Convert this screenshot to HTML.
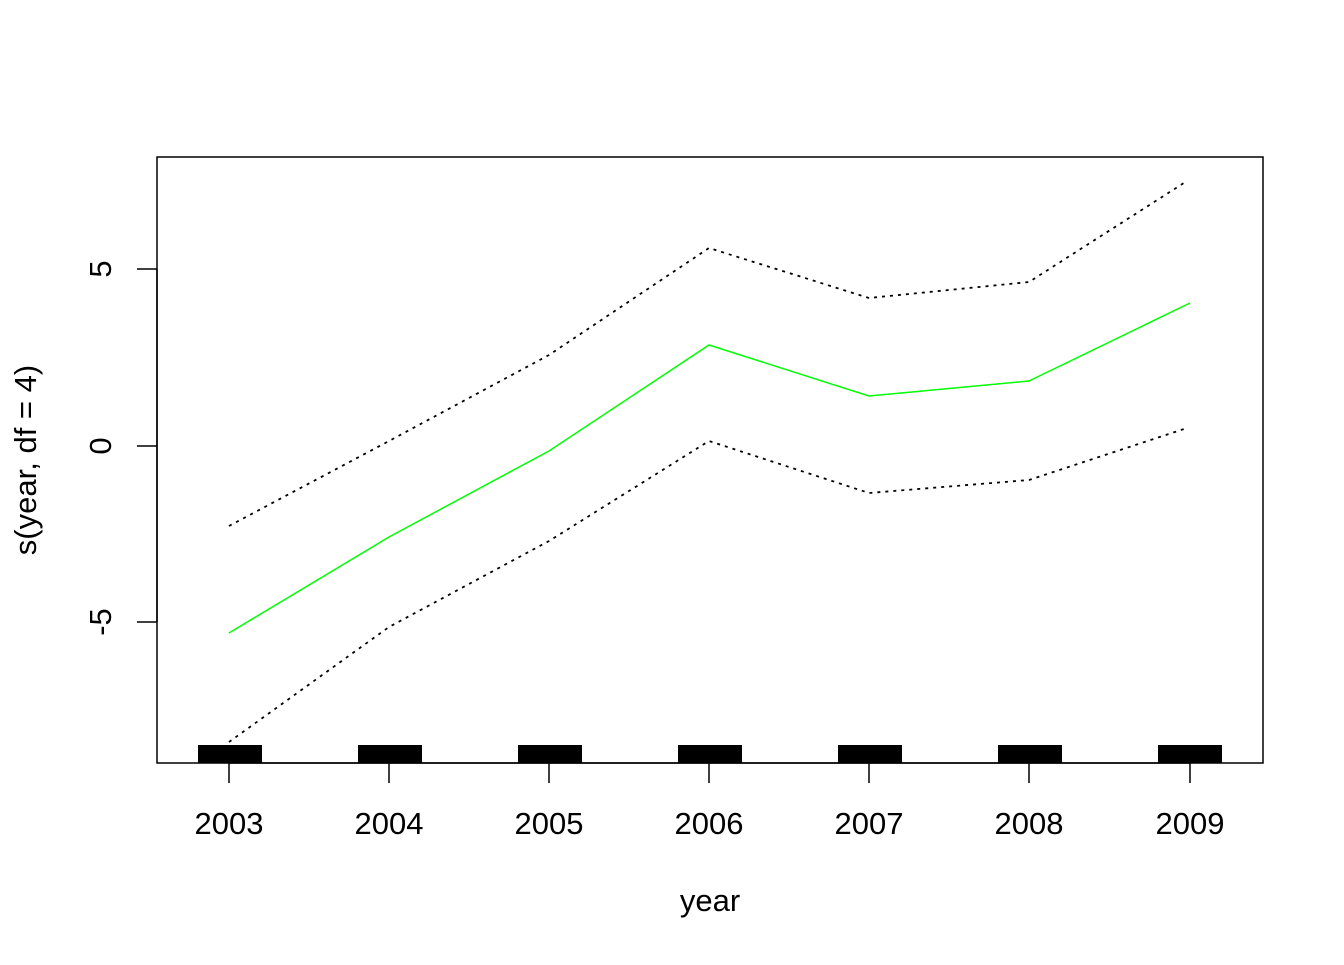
<!DOCTYPE html>
<html><head><style>body{margin:0;background:#fff}</style></head><body>
<svg width="1344" height="960" xmlns="http://www.w3.org/2000/svg" font-family="Liberation Sans, sans-serif">
<rect width="1344" height="960" fill="#fff"/>
<g fill="#000">
<rect x="198" y="745" width="64" height="18"/>
<rect x="358" y="745" width="64" height="18"/>
<rect x="518" y="745" width="64" height="18"/>
<rect x="678" y="745" width="64" height="18"/>
<rect x="838" y="745" width="64" height="18"/>
<rect x="998" y="745" width="64" height="18"/>
<rect x="1158" y="745" width="64" height="18"/>
</g>
<rect x="157" y="157" width="1106" height="606" fill="none" stroke="#000" stroke-width="1.5"/>
<polyline points="229,526 389,441 549,355 709,248 869,298 1029,282 1187,181" fill="none" stroke="#000" stroke-width="1.8" stroke-dasharray="3,5"/>
<polyline points="229,742 389,627 549,541 709,441 869,493 1029,480 1187,428" fill="none" stroke="#000" stroke-width="1.8" stroke-dasharray="3,5"/>
<polyline points="229,633 389,537 549,451 709,345 869,396 1029,381 1190,303" fill="none" stroke="#00ff00" stroke-width="1.5"/>
<g stroke="#000" stroke-width="1.5">
<line x1="229" y1="763" x2="1190" y2="763"/>
<line x1="229" y1="763" x2="229" y2="783"/><line x1="389" y1="763" x2="389" y2="783"/>
<line x1="549" y1="763" x2="549" y2="783"/><line x1="709" y1="763" x2="709" y2="783"/>
<line x1="869" y1="763" x2="869" y2="783"/><line x1="1029" y1="763" x2="1029" y2="783"/>
<line x1="1190" y1="763" x2="1190" y2="783"/>
<line x1="157" y1="269" x2="157" y2="622"/>
<line x1="137" y1="269" x2="157" y2="269"/><line x1="137" y1="446" x2="157" y2="446"/><line x1="137" y1="622" x2="157" y2="622"/>
</g>
<g font-size="31" text-anchor="middle" fill="#000">
<text x="229" y="834">2003</text><text x="389" y="834">2004</text><text x="549" y="834">2005</text>
<text x="709" y="834">2006</text><text x="869" y="834">2007</text><text x="1029" y="834">2008</text>
<text x="1190" y="834">2009</text>
<text x="710" y="911">year</text>
<text transform="translate(111,269) rotate(-90)">5</text>
<text transform="translate(111,446) rotate(-90)">0</text>
<text transform="translate(111,622) rotate(-90)">-5</text>
<text transform="translate(36,460) rotate(-90)">s(year, df = 4)</text>
</g>
</svg>
</body></html>
